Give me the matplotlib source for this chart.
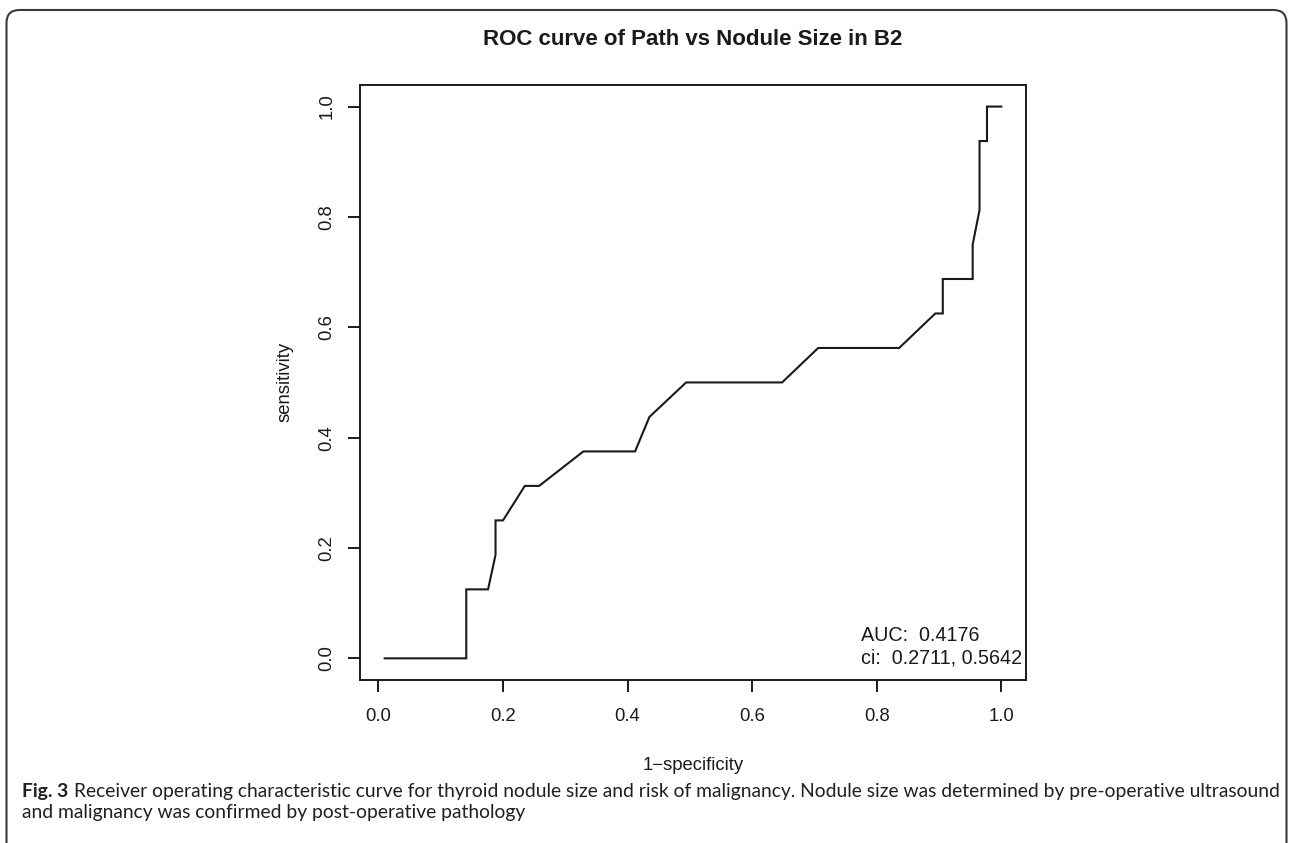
import matplotlib
matplotlib.use("Agg")
import matplotlib.pyplot as plt
from matplotlib.patches import FancyBboxPatch

# ROC points (x = 1 - specificity, y = sensitivity)
fpr = [0.010, 0.141, 0.141, 0.176, 0.188, 0.188, 0.200, 0.235, 0.258, 0.329,
       0.412, 0.435, 0.494, 0.648, 0.706, 0.836, 0.894, 0.906, 0.906, 0.954,
       0.954, 0.965, 0.965, 0.977, 0.977, 1.000]
tpr = [0.0, 0.0, 0.125, 0.125, 0.1875, 0.25, 0.25, 0.3125, 0.3125, 0.375,
       0.375, 0.4375, 0.5, 0.5, 0.5625, 0.5625, 0.625, 0.625, 0.6875, 0.6875,
       0.75, 0.8125, 0.9375, 0.9375, 1.0, 1.0]

ticks = [0.0, 0.2, 0.4, 0.6, 0.8, 1.0]
tick_labels = ["0.0", "0.2", "0.4", "0.6", "0.8", "1.0"]

title = "ROC curve of Path vs Nodule Size in B2"
auc_text = "AUC:  0.4176"
ci_text = "ci:  0.2711, 0.5642"
caption_bold = "Fig. 3"
caption_1 = ("Receiver operating characteristic curve for thyroid nodule size and risk of "
             "malignancy. Nodule size was determined by pre-operative ultrasound")
caption_2 = "and malignancy was confirmed by post-operative pathology"

W, H = 1290, 843
plot_font = "Liberation Sans"
cap_font = "Lato"
ink = "#1a1a1a"

fig = plt.figure(figsize=(W / 100, H / 100), dpi=100)
fig.patch.set_facecolor("white")

# axes placed in pixel terms
left, right, top, bottom = 360, 1026, 84.5, 680.4
ax = fig.add_axes([left / W, 1 - bottom / H, (right - left) / W, (bottom - top) / H])

ax.plot(fpr, tpr, color=ink, lw=1.5, solid_joinstyle="miter")

# R style 4% padding around the data range
xr = max(fpr) - min(fpr)
ax.set_xlim(min(fpr) - 0.04 * xr, max(fpr) + 0.04 * xr)
ax.set_ylim(-0.04, 1.04)

ax.set_xticks(ticks)
ax.set_xticklabels(tick_labels, fontsize=13.3, family=plot_font, color=ink)
ax.set_yticks(ticks)
ax.set_yticklabels(tick_labels, fontsize=13.3, family=plot_font, color=ink,
                   rotation=90, va="center")
ax.tick_params(direction="out", length=8.6, width=1.4, color=ink)
ax.tick_params(axis="x", pad=11.5)
ax.tick_params(axis="y", pad=9)
for s in ax.spines.values():
    s.set_linewidth(1.4)
    s.set_color(ink)

ax.text(0.775, 0.031, auc_text, fontsize=14.2, family=plot_font, color=ink)
ax.text(0.775, -0.009, ci_text, fontsize=14.2, family=plot_font, color=ink)

fig.text(693 / W, 1 - 45 / H, title, ha="center", va="baseline",
         fontsize=16, fontweight="bold", family=plot_font, color=ink)
fig.text(693 / W, 1 - 765 / H, "1\u2212specificity", ha="center", va="center",
         fontsize=13.3, family=plot_font, color=ink)
fig.text(285 / W, 1 - 382 / H, "sensitivity", ha="center", va="center",
         rotation=90, fontsize=13.3, family=plot_font, color=ink)

# caption, sized so the first line spans the page width
cap_x, cap_w = 22.5, 1250
size = 12.0
t_bold = fig.text(cap_x / W, 1 - 797 / H, caption_bold, fontsize=size,
                  fontweight="bold", family=cap_font, color="#231f20")
t_1 = fig.text(0, 1 - 797 / H, caption_1, fontsize=size, family=cap_font, color="#231f20")
t_2 = fig.text(cap_x / W, 1 - 818 / H, caption_2, fontsize=size, family=cap_font, color="#231f20")
for i in range(3):
    fig.canvas.draw()
    bb = t_bold.get_window_extent()
    t_1.set_x((bb.x1 + size * 0.35) / W)
    fig.canvas.draw()
    total = t_1.get_window_extent().x1 - bb.x0
    size = size * cap_w / total
    for t in (t_bold, t_1, t_2):
        t.set_fontsize(size)
fig.canvas.draw()
bb = t_bold.get_window_extent()
t_1.set_x((bb.x1 + size * 0.35) / W)

# rounded frame open at the bottom
frame = FancyBboxPatch((0.065, -0.5), 12.8, 8.33 + 0.5,
                       boxstyle="round,pad=0,rounding_size=0.13",
                       transform=fig.dpi_scale_trans, fill=False,
                       edgecolor="#3a3a3a", lw=1.5)
fig.patches.append(frame)

fig.savefig("out.png", dpi=100)
